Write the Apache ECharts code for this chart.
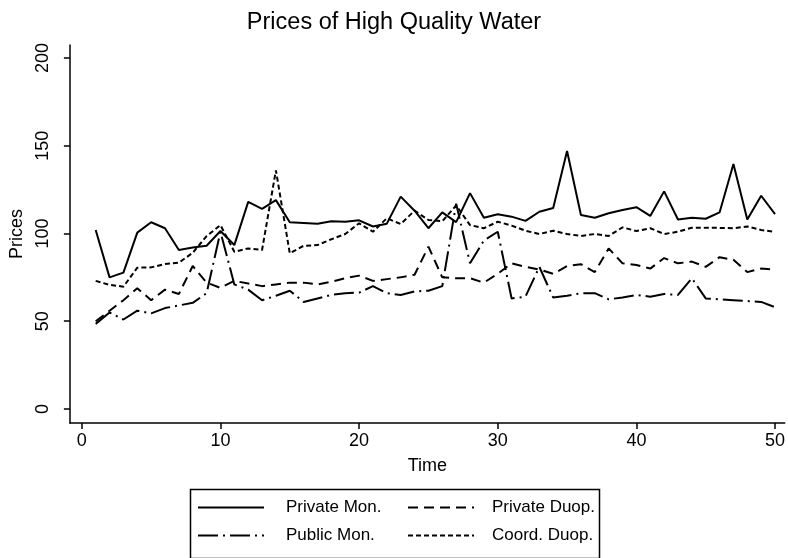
<!DOCTYPE html>
<html>
<head>
<meta charset="utf-8">
<script src="https://cdn.jsdelivr.net/npm/echarts@6/dist/echarts.min.js"></script>
<style>
  html, body { margin: 0; padding: 0; background: #fff; }
  #chart { width: 788px; height: 558px; }
</style>
</head>
<body>
<div id="chart"></div>
<script>
// Periods 1..50
const periods = Array.from({ length: 50 }, (_, i) => i + 1);

const seriesNames = ['Private Mon.', 'Private Duop.', 'Public Mon.', 'Coord. Duop.'];

const privateMon = [102, 75, 77.7, 100.5, 106.4, 103, 90.6, 92, 93, 101.4,
  93.4, 118, 114, 119, 106.4, 106, 105.6, 107, 106.7, 107.5,
  104, 105.6, 121, 113, 103, 112, 106.5, 123, 109, 111,
  109.6, 107.2, 112.4, 114.5, 147, 110.5, 109, 111.5, 113.4, 115,
  110, 124, 108, 109, 108.4, 112, 139.6, 108, 121.5, 111];

const privateDuop = [50, 56, 62, 68.8, 62, 68, 65.5, 81.5, 72, 69,
  73, 71.5, 70, 71, 72, 72, 71, 72.5, 74.5, 76,
  73, 74, 75, 76.5, 92.5, 75, 74.5, 74.5, 72, 77,
  83, 81, 79.5, 77, 81.5, 82.5, 78, 91.5, 83, 82,
  80, 86, 83, 84, 81, 86.5, 85, 78, 80, 79.5];

const publicMon = [48.5, 55, 51, 56, 54.5, 57.5, 59, 60.5, 66, 101,
  71, 68, 62, 64.5, 67.4, 61, 63, 65, 66, 66.3,
  70, 66, 65, 67, 67.4, 70, 117, 83, 96, 101,
  63, 64, 81, 63.5, 64.5, 66, 66, 62.5, 63.5, 65,
  64, 65.5, 65, 74.5, 63, 62.5, 62, 61.5, 61, 58];

const coordDuop = [73, 70.7, 69.7, 80.5, 80.7, 82.6, 83.4, 89, 98.5, 104.8,
  89.6, 91.5, 90.6, 136, 88.7, 93, 93.4, 96.7, 99.7, 105.8,
  101, 108.7, 105.4, 113, 107.7, 107, 116, 104.8, 103, 106.7,
  104.5, 101.6, 99.7, 101.6, 99.7, 98.6, 99.7, 98.6, 103.5, 101.4,
  103, 99.7, 101, 103.3, 103.2, 103.2, 103, 104, 102, 100.9];

const yTicks = [0, 50, 100, 150, 200];
const xTicks = [0, 10, 20, 30, 40, 50];

const FONT = '"Liberation Sans", Arial, Helvetica, sans-serif';
const INK = '#000';
const LEGEND_SIZE = 17;

// solid, dash, long-dash-dot, short dash
const lineStyles = [
  { type: 'solid' },
  { type: [10, 6] },
  { type: [20, 5, 2, 5] },
  { type: [5, 3] }
];

const valuesBySeries = [privateMon, privateDuop, publicMon, coordDuop];

// Two stacked legend columns inside one framed box
function legendColumn(names, left, textPad) {
  return {
    data: names,
    left: left,
    top: 499,
    orient: 'vertical',
    padding: 0,
    itemGap: 11,
    itemWidth: 66,
    itemHeight: 20,
    itemStyle: { opacity: 0, color: 'rgba(0,0,0,0)', borderWidth: 0 },
    selectedMode: false,
    textStyle: { fontFamily: FONT, fontSize: LEGEND_SIZE, color: INK, padding: [0, 0, 0, textPad] }
  };
}

const chart = echarts.init(document.getElementById('chart'), null, { renderer: 'canvas' });

chart.setOption({
  backgroundColor: '#fff',
  animation: false,
  title: {
    text: 'Prices of High Quality Water',
    left: 'center',
    top: 6,
    textStyle: { fontFamily: FONT, fontSize: 23.5, fontWeight: 'normal', color: INK }
  },
  grid: { left: 67, right: 2, top: 45, bottom: 135, containLabel: false },
  xAxis: {
    type: 'value',
    min: -0.86,
    max: 50.7,
    name: 'Time',
    nameLocation: 'middle',
    nameGap: 34,
    nameTextStyle: { fontFamily: FONT, fontSize: 18, color: INK },
    axisLine: { show: true, onZero: false, lineStyle: { color: INK, width: 1.5 } },
    axisTick: { show: true, length: 6, customValues: xTicks, lineStyle: { color: INK, width: 1.5 } },
    axisLabel: { customValues: xTicks, margin: 9, fontFamily: FONT, fontSize: 18, color: INK },
    splitLine: { show: false }
  },
  yAxis: {
    type: 'value',
    min: -7.98,
    max: 207.4,
    name: 'Prices',
    nameLocation: 'middle',
    nameRotate: 90,
    nameGap: 34,
    nameTextStyle: { fontFamily: FONT, fontSize: 18, color: INK },
    axisLine: { show: true, onZero: false, lineStyle: { color: INK, width: 1.5 } },
    axisTick: { show: true, length: 6, customValues: yTicks, lineStyle: { color: INK, width: 1.5 } },
    axisLabel: { customValues: yTicks, rotate: 90, margin: 18, fontFamily: FONT, fontSize: 18, color: INK },
    splitLine: { show: false }
  },
  legend: [
    legendColumn([seriesNames[0], seriesNames[2]], 197, 17),
    legendColumn([seriesNames[1], seriesNames[3]], 407, 13)
  ],
  graphic: [{
    type: 'rect',
    left: 188,
    top: 487,
    shape: { width: 409, height: 69 },
    style: { fill: 'none', stroke: INK, lineWidth: 1.5 },
    silent: true
  }],
  series: seriesNames.map((name, k) => ({
    name,
    type: 'line',
    data: periods.map((t, i) => [t, valuesBySeries[k][i]]),
    symbol: 'none',
    showSymbol: false,
    lineStyle: Object.assign({ color: INK, width: 2 }, lineStyles[k]),
    itemStyle: { color: INK },
    emphasis: { disabled: true }
  }))
});
</script>
</body>
</html>
